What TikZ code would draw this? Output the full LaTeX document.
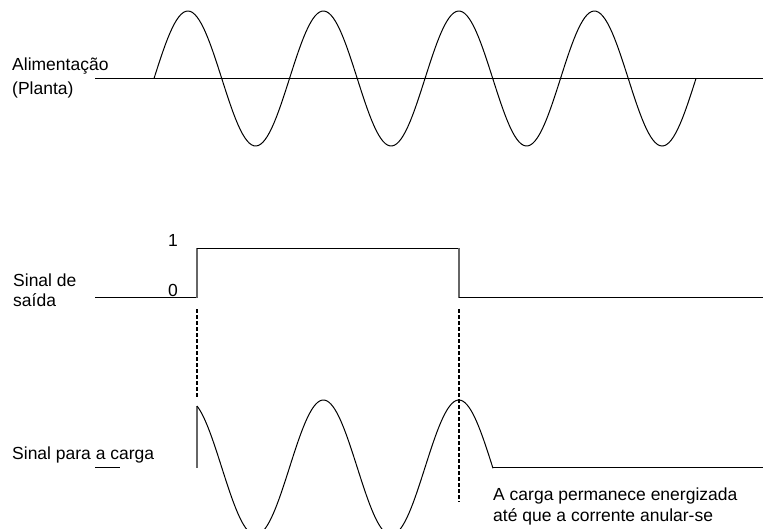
\documentclass[tikz,border=0pt]{standalone}
\usepackage{fontspec}
\setmainfont{Liberation Sans}
\usetikzlibrary{positioning}

\begin{document}
\begin{tikzpicture}[
  x=1pt,y=-1pt,
  font=\fontsize{17.5}{21}\selectfont,
  lab/.style={anchor=base west,inner sep=0pt},
  wave/.style={line width=1pt,black},
  edge/.style={line width=1.2pt,black!60},
  guide/.style={line width=1.6pt,dash pattern=on 4pt off 2pt}]
\useasboundingbox (0,0) rectangle (763,528);

% supply (plant)
\node[lab] (alim) at (12,70) {Alimentação};
\node[lab] (planta) at (12,94.3) {(Planta)};
\draw[wave] (95,78.5) -- (763,78.5);
\draw[wave] plot[domain=154:696,samples=240] (\x,{78.5-67.5*sin((\x-154)/135.5*360)});

% output signal
\node[lab] (saida1) at (13,286) {Sinal de};
\node[lab] (saida2) at (13,306.7) {saída};
\node[lab] (um) at (168,246.7) {1};
\node[lab] (zero) at (168,296) {0};
\coordinate (on) at (197,297.7);
\coordinate (off) at (459,297.7);
\draw[wave] (95,297.7) -- (on);
\draw[edge] (on) -- (197,248);
\draw[wave] (197,248) -- (459,248);
\draw[edge] (459,248) -- (off);
\draw[wave] (off) -- (763,297.7);

% markers
\draw[guide] (197,309) -- (197,398);
\draw[guide] (459,309) -- (459,502);

% load signal
\node[lab] (carga) at (12,459) {Sinal para a carga};
\draw[wave] (95,467.5) -- (120,467.5);
\draw[edge] (197,467.5) -- (197,406);
\draw[wave] plot[domain=197:493,samples=160] (\x,{467.5-67.5*sin((\x-154)/135.5*360)});
\draw[wave] (493,467.5) -- (763,467.5);
\node[lab] (nota1) at (493,500) {A carga permanece energizada};
\node[lab] (nota2) at (493,521) {até que a corrente anular-se};
\end{tikzpicture}
\end{document}
